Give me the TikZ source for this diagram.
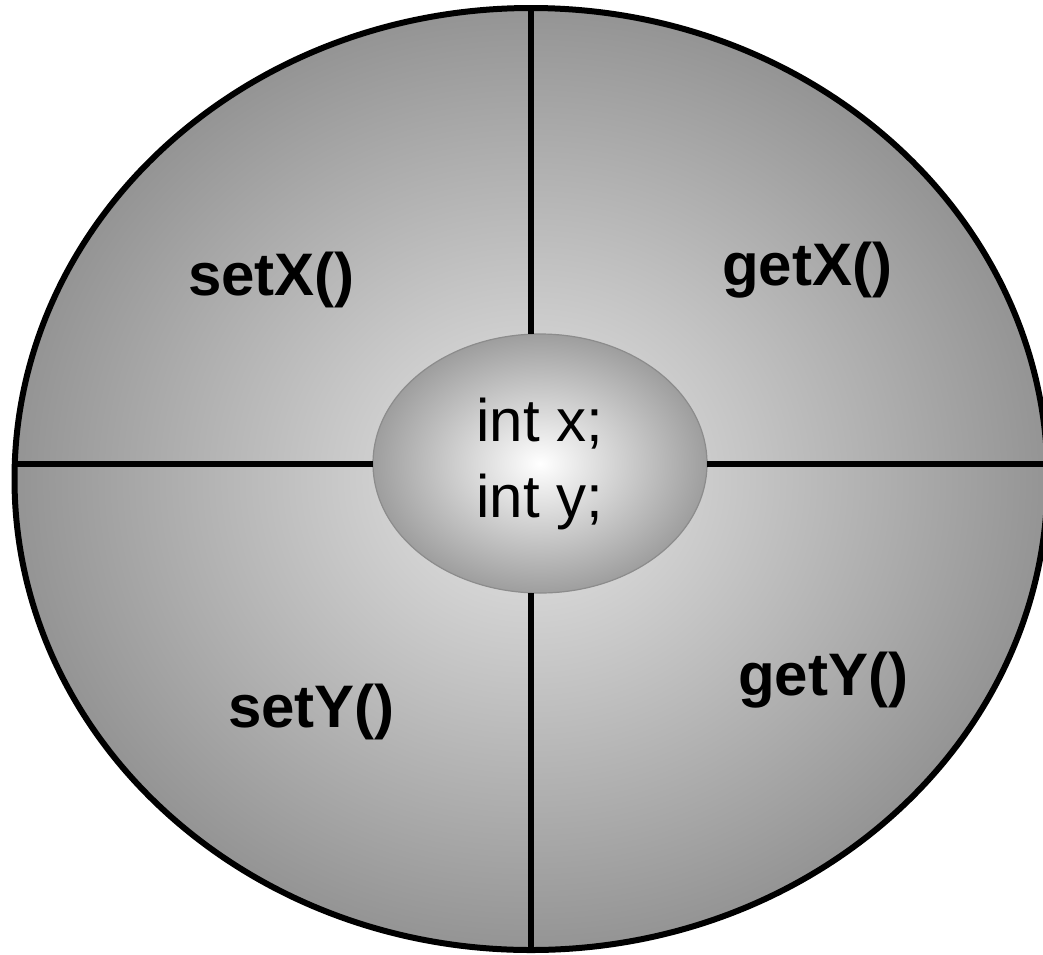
\documentclass[tikz,border=0pt]{standalone}
\usepackage{fontspec}
\setmainfont{Liberation Sans}
\usetikzlibrary{shapes.geometric}
\colorlet{linecolor}{black}
\colorlet{shellrim}{black!42}
\colorlet{shellmid}{black!9}
\colorlet{corerim}{black!38}
\colorlet{corestroke}{black!45}
\tikzset{
  shell/.style={
    ellipse,
    draw=linecolor,
    line width=6pt,
    inner sep=0pt,
    outer sep=0pt,
    minimum width=1033pt,
    minimum height=942pt,
    inner color=shellmid,
    outer color=shellrim
  },
  core/.style={
    ellipse,
    draw=corestroke,
    line width=1.2pt,
    inner sep=0pt,
    outer sep=0pt,
    minimum width=334pt,
    minimum height=259pt,
    inner color=white,
    outer color=corerim,
    align=center,
    font=\fontsize{60}{76}\selectfont
  },
  method/.style={anchor=base west, inner sep=0pt, font=\bfseries\fontsize{60}{72}\selectfont},
  divider/.style={line width=6pt, draw=linecolor}
}
\begin{document}
\begin{tikzpicture}[x=1pt, y=-1pt]
\clip (0,0) rectangle (1043,954);

\node[shell] (shell) at (531,479) {};
\node[core] (core) at (540,463.5) {int x;\\int y;};

\draw[divider] (shell.north) -- (shell.north |- core.north);
\draw[divider] (shell.south) -- (shell.south |- core.south);
\draw[divider] (core.west) -- (core.west -| shell.west);
\draw[divider] (core.east) -- (core.east -| shell.east);

\node[method] (setx) at (188,295) {setX()};
\node[method] (getx) at (722,285) {getX()};
\node[method] (sety) at (228,727) {setY()};
\node[method] (gety) at (738,695) {getY()};

\end{tikzpicture}
\end{document}
